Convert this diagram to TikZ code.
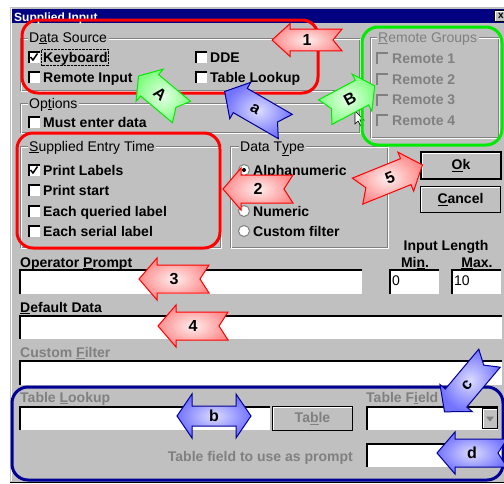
\documentclass[tikz,border=0pt]{standalone}
\usepackage{fontspec}
\setmainfont{Liberation Sans}
\usepackage{tikz}

\definecolor{winface}{RGB}{192,192,192}
\definecolor{winshadow}{RGB}{128,128,128}
\definecolor{titlenavy}{RGB}{0,0,128}
\definecolor{markred}{RGB}{255,0,0}
\definecolor{markgreen}{RGB}{0,235,0}
\definecolor{markblue}{RGB}{0,0,150}
\definecolor{redin}{RGB}{255,238,238}
\definecolor{redout}{RGB}{255,140,140}
\definecolor{greenin}{RGB}{230,255,230}
\definecolor{greenout}{RGB}{130,255,130}
\definecolor{bluein}{RGB}{220,220,255}
\definecolor{blueout}{RGB}{115,115,255}

\newcommand{\dlg}{\fontsize{14}{16}\selectfont}
\newcommand{\acc}[1]{\underline{#1}}

\tikzset{
  txt/.style={anchor=base west, inner sep=0pt, font=\dlg\bfseries},
  grp/.style={anchor=base west, inner sep=1.5pt, fill=winface, font=\dlg},
  dim/.style={text=winshadow},
  etch/.style={draw=winshadow, line width=1pt},
  field/.style={anchor=north west, fill=white, inner sep=0pt, outer sep=0pt,
    path picture={\draw[black, line width=3pt] (path picture bounding box.south west)
      |- (path picture bounding box.north east);}},
  dimchk/.style={anchor=north west, fill=winface, inner sep=0pt, minimum size=12,
    path picture={\draw[winshadow, line width=3pt] (path picture bounding box.south west)
      |- (path picture bounding box.north east);}},
  button/.style={anchor=north west, fill=winface, draw=black, line width=1pt, inner sep=0pt,
    font=\dlg\bfseries,
    path picture={\draw[white, line width=3pt] (path picture bounding box.south west)
      |- (path picture bounding box.north east);}},
  radio/.style={circle, draw=winshadow, fill=white, line width=1pt, minimum size=11, inner sep=0pt},
  hilite/.style={line width=3pt, rounded corners=16pt},
  redarrow/.style={draw=markred, line width=1pt, inner color=redin, outer color=redout},
  greenarrow/.style={draw=markgreen, line width=1pt, inner color=greenin, outer color=greenout},
  bluearrow/.style={draw=markblue, line width=1pt, inner color=bluein, outer color=blueout},
  calloutlabel/.style={inner sep=0pt, font=\fontsize{16}{16}\selectfont\bfseries}
}

% notched block arrow: [scope opts]{name}{centre}{angle}{style}{label}{label angle}
\newcommand{\callout}[7][]{%
  \begin{scope}[shift={#3}, rotate=#4, #1]
    \draw[#5] (35,0) -- (17,21) -- (17,14) -- (-35,14) -- (-26,0)
      -- (-35,-14) -- (17,-14) -- (17,-21) -- cycle;
  \end{scope}
  \node[calloutlabel, rotate=#7] (#2) at #3 {#6};
}

\begin{document}
\begin{tikzpicture}[x=1pt, y=-1pt]
  \useasboundingbox (0,0) rectangle (504,483);
  \clip (0,0) rectangle (504,483);

  % window and title bar
  \fill[white] (0,0) rectangle (504,483);
  \fill[winface] (10,7) rectangle (510,482);
  \draw[black] (10,482) -- (510,482);
  \draw[white] (11,8) -- (11,481);
  \fill[titlenavy] (12,9) rectangle (510,23);
  \node[anchor=base west, inner sep=0pt, text=white, font=\fontsize{12}{14}\selectfont\bfseries]
    (title) at (14,21) {Supplied Input};
  \node[button, minimum width=13, minimum height=11, font=\fontsize{10}{10}\selectfont\bfseries]
    (close) at (494,10) {x};

  % Data Source
  \draw[etch] (20,38) rectangle (359,90);
  \draw[white] (21,39) rectangle (360,91);
  \node[grp] (srclbl) at (27.5,42) {D\acc{a}ta Source};
  \node[field, minimum size=12] (kbbox) at (28,51) {};
  \node[txt] (kb) at (43,62) {Keyboard};
  \draw[line width=1.5pt] ([shift={(-3.5,0)}]kbbox.center) -- ++(2.5,3) -- ++(4.5,-6.5);
  \draw[densely dotted] (41.5,49.5) rectangle (108.5,65);
  \node[field, minimum size=12] (rembox) at (28,71) {};
  \node[txt] (rem) at (43,82) {Remote Input};
  \node[field, minimum size=12] (ddebox) at (195,51) {};
  \node[txt] (dde) at (210,62) {DDE};
  \node[field, minimum size=12] (tlbox) at (195,71) {};
  \node[txt] (tl) at (210,82) {Table Lookup};

  % Options
  \draw[etch] (20,103) rectangle (359,132);
  \draw[white] (21,104) rectangle (360,133);
  \node[grp] (optlbl) at (27.5,108) {Op\acc{t}ions};
  \node[field, minimum size=12] (mustbox) at (28,116) {};
  \node[txt] (must) at (43,127) {Must enter data};

  % Remote Groups
  \draw[etch] (370,37) rectangle (498,137);
  \draw[white] (371,38) rectangle (499,138);
  \node[grp, dim] (rglbl) at (376.5,42) {\acc{R}emote Groups};
  \node[dimchk] (r1box) at (376,52) {};
  \node[txt, dim] (r1) at (392,63) {Remote 1};
  \node[dimchk] (r2box) at (376,73) {};
  \node[txt, dim] (r2) at (392,84) {Remote 2};
  \node[dimchk] (r3box) at (376,94) {};
  \node[txt, dim] (r3) at (392,104) {Remote 3};
  \node[dimchk] (r4box) at (376,114) {};
  \node[txt, dim] (r4) at (392,125) {Remote 4};

  % Supplied Entry Time
  \draw[etch] (20,146) rectangle (220,247);
  \draw[white] (21,147) rectangle (221,248);
  \node[grp] (setlbl) at (27.5,151) {\acc{S}upplied Entry Time};
  \node[field, minimum size=12] (plbox) at (28,164) {};
  \node[txt] (pl) at (43,175) {Print Labels};
  \draw[line width=1.5pt] ([shift={(-3.5,0)}]plbox.center) -- ++(2.5,3) -- ++(4.5,-6.5);
  \node[field, minimum size=12] (psbox) at (28,184) {};
  \node[txt] (ps) at (43,195) {Print start};
  \node[field, minimum size=12] (eqbox) at (28,205) {};
  \node[txt] (eq) at (43,216) {Each queried label};
  \node[field, minimum size=12] (esbox) at (28,225) {};
  \node[txt] (es) at (43,236) {Each serial label};

  % Data Type
  \draw[etch] (230,146) rectangle (387,247);
  \draw[white] (231,147) rectangle (388,248);
  \node[grp] (dtlbl) at (238.5,151) {Data T\acc{y}pe};
  \node[radio] (alpharad) at (244,170) {};
  \node[circle, fill=black, minimum size=4, inner sep=0pt] (alphadot) at (alpharad.center) {};
  \node[txt] (alpha) at (253,175) {Alphanumeric};
  \node[radio] (numrad) at (244,211) {};
  \node[txt] (num) at (253,216) {Numeric};
  \node[radio] (cfrad) at (244,231) {};
  \node[txt] (cf) at (253,236) {Custom filter};

  % buttons
  \node[button, line width=2pt, minimum width=80, minimum height=27] (ok) at (420,151) {\acc{O}k};
  \node[button, minimum width=80, minimum height=26] (cancel) at (420,186) {\acc{C}ancel};

  % input length
  \node[txt, anchor=base] (inlen) at (446,250) {Input Length};
  \node[txt, anchor=base] (minlbl) at (415,267) {Mi\acc{n}.};
  \node[txt, anchor=base] (maxlbl) at (477,267) {\acc{M}ax.};
  \node[field, minimum width=50, minimum height=25] (minfld) at (389,269) {};
  \node[txt, font=\dlg] (minval) at (392,285) {0};
  \node[field, minimum width=50, minimum height=25] (maxfld) at (451,269) {};
  \node[txt, font=\dlg] (maxval) at (454,285) {10};

  % text fields
  \node[txt] (oplbl) at (20,267) {Operator \acc{P}rompt};
  \node[field, minimum width=343, minimum height=25] (opfld) at (19,269) {};
  \node[txt] (deflbl) at (20,312) {\acc{D}efault Data};
  \node[field, minimum width=483, minimum height=24] (deffld) at (19,315) {};
  \node[txt, dim] (cflbl) at (20,357) {Custom \acc{F}ilter};
  \node[field, minimum width=483, minimum height=25] (cffld) at (19,360) {};

  % table lookup
  \node[txt, dim] (tllbl) at (20,402) {Table \acc{L}ookup};
  \node[field, minimum width=251, minimum height=24] (tlfld) at (19,406) {};
  \node[button, minimum width=80, minimum height=24, text=winshadow] (tblbtn) at (272,406) {Ta\acc{b}le};
  \node[txt, dim] (tflbl) at (366,402) {Table F\acc{i}eld};
  \node[field, minimum width=132, minimum height=24] (tffld) at (366,406) {};
  \node[button, minimum width=15, minimum height=20] (drop) at (482,408) {};
  \fill[winshadow] ([shift={(-4,-2)}]drop.center) -- ++(8,0) -- ++(-4,5) -- cycle;
  \node[txt, dim, anchor=base east] (tfplbl) at (353,461) {Table field to use as prompt};
  \node[field, minimum width=136, minimum height=24] (tfpfld) at (366,443) {};

  % mouse pointer
  \draw[fill=white, line width=0.6pt] (355,111) -- (355,124) -- (358,121) -- (361,126)
    -- (363,125) -- (360,120) -- (364,120) -- cycle;

  % highlight frames
  \draw[hilite, markred] (22,20) rectangle (318,93);
  \draw[hilite, markred] (17,133) rectangle (220,248);
  \draw[hilite, markgreen] (362,27) rectangle (502,145);
  \draw[hilite, markblue] (12,387) rectangle (503,480);

  % callout arrows
  \callout[yscale=0.78]{arr1}{(307,40)}{180}{redarrow}{1}{0}
  \callout{arr2}{(258,189)}{180}{redarrow}{2}{0}
  \callout{arr3}{(174,279)}{180}{redarrow}{3}{0}
  \callout{arr4}{(193,326)}{180}{redarrow}{4}{0}
  \callout{arr5}{(390,178)}{22}{redarrow}{5}{22}
  \callout[xscale=0.8]{arrA}{(160,94)}{140}{greenarrow}{A}{-40}
  \callout[xscale=0.8]{arrB}{(350,99)}{28}{greenarrow}{B}{28}
  \callout{arra}{(255,109)}{150}{bluearrow}{a}{-30}
  \callout{arrc}{(467,385)}{230}{bluearrow}{c}{50}
  \callout{arrd}{(472,453)}{180}{bluearrow}{d}{0}
  \draw[bluearrow] (177,416) -- (192,394) -- (192,406) -- (236,406) -- (236,394) -- (251,416)
    -- (236,438) -- (236,426) -- (192,426) -- (192,438) -- cycle;
  \node[calloutlabel] (arrb) at (214,416) {b};
\end{tikzpicture}
\end{document}
